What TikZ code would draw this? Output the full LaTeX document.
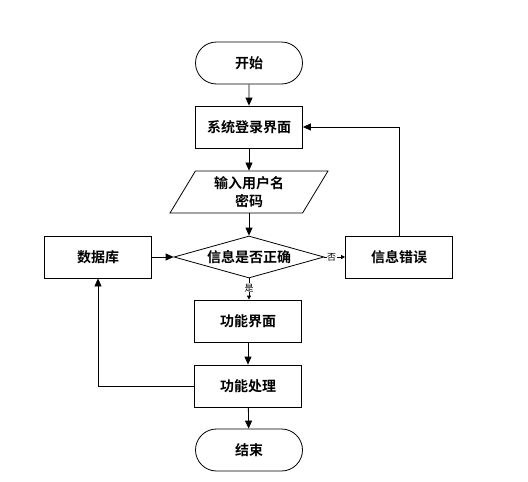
\documentclass[tikz,border=0pt]{standalone}
\usepackage{fontspec}
\setmainfont{Noto Sans CJK SC}[BoldFont={* Bold}]
\usetikzlibrary{shapes.geometric,shapes.misc,arrows.meta}
\begin{document}
\begin{tikzpicture}[x=1pt,y=-1pt,
  every node/.style={font=\fontsize{14pt}{18pt}\selectfont\bfseries, align=center, inner sep=0pt},
  box/.style={draw, line width=0.8pt, minimum width=107pt, minimum height=42pt},
  term/.style={draw, line width=0.8pt, rounded rectangle, minimum width=107pt, minimum height=42pt},
  para/.style={draw, line width=0.8pt, trapezium, trapezium stretches=true, trapezium left angle=62, trapezium right angle=118, minimum width=158pt, minimum height=42pt},
  dec/.style={draw, line width=0.8pt, diamond, aspect=3.57, minimum width=150pt, minimum height=42pt},
  conn/.style={line width=0.8pt, -{Triangle[length=8pt,width=7pt]}},
  sconn/.style={line width=0.8pt, -{Triangle[length=4pt,width=4pt]}},
  lbl/.style={font=\fontsize{9pt}{10pt}\selectfont, fill=white, inner sep=0.5pt}]
\useasboundingbox (0,0) rectangle (528,482);
\node[term] (start) at (249,63) {开始};
\node[box] (login) at (249,127) {系统登录界面};
\node[para] (input) at (249,192) {输入用户名\\密码};
\node[dec] (check) at (249,257) {信息是否正确};
\node[box] (err) at (399,257) {信息错误};
\node[box] (db) at (98,257) {数据库};
\node[box] (func) at (248,321) {功能界面};
\node[box] (proc) at (248,386) {功能处理};
\node[term] (end) at (249,450) {结束};
\coordinate (errup) at (err.north |- login.east);
\coordinate (dbcorner) at (db.south |- proc.west);
\draw[conn] (start) -- (login);
\draw[conn] (login) -- (login |- input.north);
\draw[conn] (input.south -| check.north) -- (check.north);
\draw[conn] (db) -- (check.west);
\draw[sconn] (check.east) -- node[lbl, pos=0.35]{否} (err.west);
\draw[sconn] (check.south) -- node[lbl, pos=0.45]{是} (check.south |- func.north);
\draw[conn] (err.north) -- (errup) -- (login.east);
\draw[conn] (func) -- (proc);
\draw[conn] (proc.west) -- (dbcorner) -- (db.south);
\draw[conn] (proc) -- (end);
\end{tikzpicture}
\end{document}
